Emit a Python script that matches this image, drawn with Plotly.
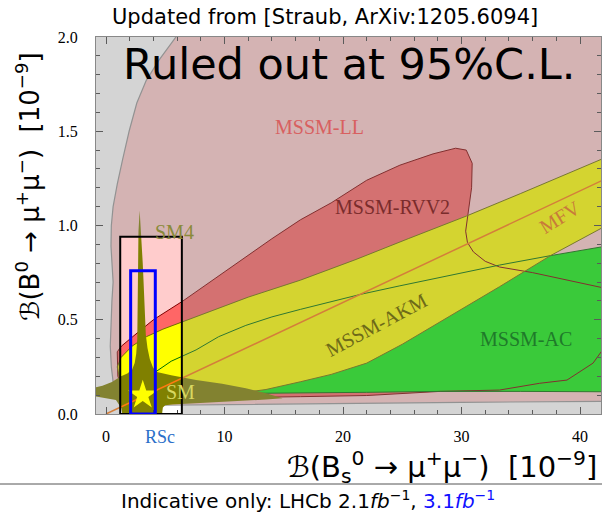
import plotly.graph_objects as go

# ---------------- axes ----------------
x_range = [-0.844, 41.77]
y_range = [0.0, 2.0]
x_tick_vals = [0, 10, 20, 30, 40]
x_tick_text = ["0", "10", "20", "30", "40"]
y_tick_vals = [0.0, 0.5, 1.0, 1.5, 2.0]
y_tick_text = ["0.0", "0.5", "1.0", "1.5", "2.0"]

# ---------------- experimental boxes (x0, x1, y0, y1) ----------------
lhcb21_box = [1.2, 6.4, 0.0, 0.94]
lhcb31_box = [2.08, 4.16, 0.0, 0.76]

# ---------------- model regions ----------------
ll_x = [6.2, 5.9, 4.5, 3.4, 2.6, 1.95, 1.4, 0.95, 0.6, 0.45, 0.42, 0.55, 0.6, 0.5, 0.42,
        0.36, 0.45, 0.62, 0.85, 1.2, 2.0, 10.0, 20.0, 30.0, 44.0, 44.0, 6.2]
ll_y = [2.1, 2.0, 1.88, 1.77, 1.65, 1.5, 1.35, 1.22, 1.1, 1.0, 0.89, 0.78, 0.7, 0.6, 0.5,
        0.36, 0.25, 0.16, 0.09, 0.055, 0.045, 0.05, 0.058, 0.062, 0.068, 2.1, 2.1]

rvv_x = [0.95, 1.3, 2.25, 4.0, 6.5, 9.0, 11.5, 14.0, 16.4, 19.0, 22.0, 24.8, 27.6, 29.5,
         30.4, 30.9, 30.85, 30.6, 30.35, 30.5, 31.0, 32.0, 33.2, 36.0, 39.0, 41.9, 44.0,
         44.0, 42.5, 41.9, 41.1, 38.9, 36.6, 33.2, 28.2, 22.0, 16.4, 10.0, 4.0, 1.6, 1.0, 0.95]
rvv_y = [0.33, 0.36, 0.41, 0.50, 0.60, 0.71, 0.82, 0.93, 1.03, 1.12, 1.24, 1.32, 1.38, 1.41,
         1.40, 1.33, 1.20, 1.08, 0.97, 0.91, 0.86, 0.81, 0.78, 0.75, 0.71, 0.67, 0.62,
         0.45, 0.38, 0.34, 0.27, 0.18, 0.163, 0.127, 0.12, 0.098, 0.092, 0.085, 0.08, 0.1, 0.2, 0.33]

ac_x = [4.2, 5.5, 7.6, 9.5, 11.8, 14.0, 16.4, 18.6, 21.5, 24.8, 28.2, 33.2, 37.5, 41.9, 44.0,
        44.0, 41.9, 35.0, 28.2, 22.0, 16.4, 13.0, 9.0, 6.0, 4.5, 4.2]
ac_y = [0.224, 0.28, 0.34, 0.41, 0.47, 0.515, 0.555, 0.59, 0.635, 0.68, 0.725, 0.79, 0.84, 0.89, 0.91,
        0.11, 0.118, 0.12, 0.12, 0.115, 0.11, 0.11, 0.1, 0.1, 0.15, 0.224]

akm_x = [0.95, 1.27, 2.2, 3.4, 4.8, 6.47, 9.0, 12.0, 16.4, 21.1, 25.5, 30.4, 35.0, 41.9, 44.0,
         44.0, 41.9, 37.5, 33.2, 28.2, 25.0, 22.0, 19.0, 16.4, 13.5, 10.0, 5.0, 2.0, 1.2, 0.95]
akm_y = [0.25, 0.30, 0.36, 0.41, 0.45, 0.49, 0.55, 0.62, 0.71, 0.82, 0.93, 1.05, 1.17, 1.35, 1.41,
         1.06, 0.99, 0.84, 0.675, 0.49, 0.37, 0.27, 0.21, 0.171, 0.13, 0.10, 0.10, 0.13, 0.17, 0.25]

sm4_x = [2.84, 2.93, 3.02, 3.1, 3.17, 3.22, 3.28, 3.36, 3.5, 3.7, 3.95, 4.2, 5.5, 7.6, 9.8, 11.8,
         13.5, 14.9, 13.5, 11.8, 9.8, 7.6, 5.6, 5.0, 4.8, 4.75, 4.7, 1.5, 1.3, 0.84, -0.3,
         -1.0, -1.0, -0.3, 0.5, 1.27, 1.8, 2.2, 2.42, 2.55, 2.64, 2.68, 2.69, 2.7, 2.74, 2.84]
sm4_y = [1.08, 1.0, 0.9, 0.8, 0.7, 0.6, 0.5, 0.42, 0.35, 0.29, 0.25, 0.224, 0.205, 0.18, 0.16, 0.137,
         0.11, 0.083, 0.077, 0.072, 0.066, 0.058, 0.05, 0.046, 0.035, 0.01, -0.05, -0.05, 0.03, 0.074, 0.088,
         0.095, 0.14, 0.15, 0.17, 0.2, 0.215, 0.235, 0.27, 0.32, 0.4, 0.55, 0.7, 0.85, 0.97, 1.08]

mfv_x = [0.0, 42.0]
mfv_y = [0.0, 1.243]

sm_point = [3.1, 0.1]

labels = ["MSSM-LL", "MSSM-RVV2", "MSSM-AKM", "MFV", "MSSM-AC", "SM4", "SM"]

SERIF = "Liberation Serif"
SANS = "DejaVu Sans"

fig = go.Figure()

def region(xs, ys, fill, line=None, width=1.0):
    fig.add_trace(go.Scatter(
        x=xs, y=ys, mode="lines", fill="toself", fillcolor=fill,
        line=dict(color=line if line else "rgba(0,0,0,0)", width=width if line else 0),
        hoverinfo="skip", showlegend=False))

def outline(xs, ys, color, width=1.0):
    fig.add_trace(go.Scatter(
        x=xs, y=ys, mode="lines", line=dict(color=color, width=width),
        hoverinfo="skip", showlegend=False))

region(ll_x, ll_y, "#ffcccc", "#999999", 1.2)
region(rvv_x, rvv_y, "#ff6666")
region(ac_x, ac_y, "#10f010")
region(akm_x, akm_y, "#ffff00")
outline(rvv_x, rvv_y, "#800000", 1.0)
outline(ac_x, ac_y, "#007000", 1.0)
outline(akm_x, akm_y, "#707000", 1.0)
region(sm4_x, sm4_y, "#808000")
outline(mfv_x, mfv_y, "#ff7a10", 1.5)

fig.add_trace(go.Scatter(
    x=[sm_point[0]], y=[sm_point[1]], mode="markers",
    marker=dict(symbol="star", size=22, color="#ffff00", line=dict(width=0)),
    hoverinfo="skip", showlegend=False))

# grey "ruled out" veil outside the LHCb 2.1/fb box
bx0, bx1, by0, by1 = lhcb21_box
veil = (f"M {x_range[0]},{y_range[0]} L {x_range[1]},{y_range[0]} L {x_range[1]},{y_range[1]} "
        f"L {x_range[0]},{y_range[1]} Z M {bx0},{by0} L {bx1},{by0} L {bx1},{by1} L {bx0},{by1} Z")

# plot area spans 96..601 x 37..414 in the window (body margin removed by post_script)
W, H, OFF = 602, 513, 0
ML, MR, MT, MB = 96, 1, 37, 99
PW, PH = W - ML - MR, H - MT - MB


def px(xp):
    return (xp - OFF - ML) / PW


def py(yp):
    return (OFF + MT + PH - yp) / PH


shapes = [
    dict(type="path", path=veil, xref="x", yref="y", fillcolor="rgba(134,134,134,0.357)",
         line=dict(width=0), layer="above", fillrule="evenodd"),
    dict(type="rect", xref="x", yref="y", x0=bx0, x1=bx1, y0=by0, y1=by1,
         line=dict(color="black", width=2), layer="above"),
    dict(type="rect", xref="x", yref="y", x0=lhcb31_box[0], x1=lhcb31_box[1],
         y0=lhcb31_box[2], y1=lhcb31_box[3], line=dict(color="#0000ff", width=3), layer="above"),
    dict(type="line", xref="paper", yref="paper", x0=px(0), x1=px(602), y0=py(484), y1=py(484),
         line=dict(color="#555555", width=1)),
]

label_pos = {
    "MSSM-LL": (18.0, 1.52, 0, "#d86060"),
    "MSSM-RVV2": (24.2, 1.10, 0, "#7a2c2c"),
    "MSSM-AKM": (22.8, 0.47, -28, "#6e6a18"),
    "MFV": (38.3, 1.045, -32, "#c87a3a"),
    "MSSM-AC": (35.4, 0.40, 0, "#1f7a2a"),
    "SM4": (5.8, 0.965, 0, "#8a8a3a"),
    "SM": (6.3, 0.117, 0, "#d8d860"),
}
annotations = []
for name in labels:
    lx, ly, ang, col = label_pos[name]
    annotations.append(dict(x=lx, y=ly, xref="x", yref="y", text=name, showarrow=False,
                            textangle=ang, xanchor="center", yanchor="middle",
                            font=dict(family=SERIF, size=20, color=col)))

annotations += [
    dict(x=px(349), y=py(64), xref="paper", yref="paper", text="Ruled out at 95%C.L.",
         xanchor="center", yanchor="middle",
         showarrow=False, font=dict(family=SANS, size=43, color="black")),
    dict(x=px(325), y=py(17), xref="paper", yref="paper",
         xanchor="center", yanchor="middle",
         text="Updated from [Straub, ArXiv:1205.6094]", showarrow=False,
         font=dict(family=SANS, size=21, color="black")),
    dict(x=4.56, y=py(437), xref="x", yref="paper", text="RSc", showarrow=False,
         xanchor="center", yanchor="middle",
         font=dict(family=SERIF, size=18, color="#2a6fc9")),
    dict(x=px(599), y=py(467), xref="paper", yref="paper", xanchor="right", yanchor="middle",
         text="ℬ(B<sub>s</sub><sup>0</sup> → μ<sup>+</sup>μ<sup>−</sup>)  [10<sup>−9</sup>]",
         showarrow=False, font=dict(family=SANS, size=29, color="black")),
    dict(x=px(28), y=py(187), xref="paper", yref="paper", textangle=-90,
         xanchor="center", yanchor="middle",
         text="ℬ(B<sup>0</sup> → μ<sup>+</sup>μ<sup>−</sup>)  [10<sup>−9</sup>]",
         showarrow=False, font=dict(family=SANS, size=26, color="black")),
    dict(x=px(119), y=py(500), xref="paper", yref="paper", xanchor="left", yanchor="middle",
         text="Indicative only: LHCb 2.1<i>fb</i><sup>−1</sup>, "
              "<span style='color:#1010ff'>3.1<i>fb</i><sup>−1</sup></span>",
         showarrow=False, font=dict(family=SANS, size=20, color="black")),
]

fig.update_layout(
    width=W, height=H,
    margin=dict(l=ML, r=MR, t=MT, b=MB, autoexpand=False),
    paper_bgcolor="white", plot_bgcolor="white",
    shapes=shapes, annotations=annotations,
    xaxis=dict(range=x_range, tickvals=x_tick_vals, ticktext=x_tick_text,
               ticks="inside", ticklen=7, tickcolor="#444", mirror="allticks",
               showline=True, linecolor="#888", linewidth=1, showgrid=False, zeroline=False,
               minor=dict(dtick=2, tick0=0, ticks="inside", ticklen=4, tickcolor="#444"),
               tickfont=dict(family=SERIF, size=16, color="black"), ticklabelstandoff=8),
    yaxis=dict(range=y_range, tickvals=y_tick_vals, ticktext=y_tick_text,
               ticks="inside", ticklen=7, tickcolor="#444", mirror="allticks",
               showline=True, linecolor="#888", linewidth=1, showgrid=False, zeroline=False,
               minor=dict(dtick=0.1, tick0=0, ticks="inside", ticklen=4, tickcolor="#444"),
               tickfont=dict(family=SERIF, size=16, color="black"), ticklabelstandoff=14),
)

fig.write_html("out.html",
               config={"displayModeBar": False, "staticPlot": True},
               post_script="document.body.style.margin='0px';document.body.style.overflow='hidden';")
